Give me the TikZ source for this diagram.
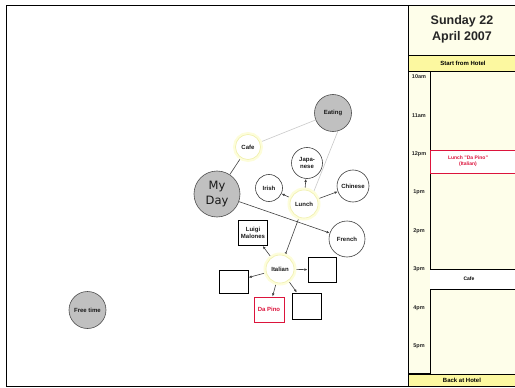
\documentclass[tikz,border=0pt]{standalone}
\usepackage{fontspec}
\setmainfont{Liberation Sans}
\newfontfamily\labelfont{DejaVu Sans}
\usetikzlibrary{arrows.meta,backgrounds}
\definecolor{panelcream}{RGB}{254,254,234}
\definecolor{baryellow}{RGB}{252,248,160}
\definecolor{topicgray}{RGB}{192,192,192}
\definecolor{pinored}{RGB}{220,20,60}
\definecolor{glowyellow}{RGB}{253,253,218}
\definecolor{glowedge}{RGB}{240,240,170}
\definecolor{linkgray}{RGB}{200,200,200}

\begin{document}
\begin{tikzpicture}[x=1pt,y=-1pt,
  lbl/.style={font=\bfseries\fontsize{6}{7}\selectfont, align=center, inner sep=0pt, text=black!90},
  graytopic/.style={lbl, circle, draw=black!70, fill=topicgray, line width=0.6pt, minimum size=#1},
  plaintopic/.style={lbl, circle, draw=black!75, fill=white, line width=0.6pt, minimum size=#1},
  glowtopic/.style={lbl, circle, fill=white, draw=glowedge, line width=0.6pt, minimum size=#1,
    preaction={draw=glowyellow, line width=5pt}},
  boxtopic/.style={lbl, rectangle, draw=black, fill=white, line width=0.9pt,
    minimum width=29pt, minimum height=25pt},
  link/.style={draw=black!75, line width=0.6pt},
  arr/.style={link, -{Latex[length=3.2pt,width=2.6pt]}},
  softlink/.style={draw=linkgray, line width=0.6pt},
  small/.style={font=\bfseries\fontsize{6}{7}\selectfont, inner sep=0pt, align=center},
  tiny/.style={font=\bfseries\fontsize{5}{6}\selectfont, inner sep=0pt, align=center},
  hour/.style={font=\bfseries\fontsize{5.5}{6}\selectfont, inner sep=0pt, text=black!85},
]
\useasboundingbox (0,0) rectangle (515,388);

% ---------- day plan panel ----------
\fill[panelcream] (408,5.5) rectangle (515,386.5);
\node[font=\bfseries\fontsize{12.5}{16}\selectfont, align=center, text=black!85] (title) at (462,29)
  {Sunday 22\\April 2007};
\draw[line width=0.8pt] (408,55) -- (515,55);
\draw[fill=baryellow, line width=0.8pt] (408,55) rectangle (517,71);
\node[small] (start) at (463,63) {Start from Hotel};
\draw[line width=0.9pt] (408,71) rectangle (430,373);
\foreach \t [count=\k from 0] in {10am,11am,12pm,1pm,2pm,3pm,4pm,5pm}
  \node[hour] (h\k) at (419,{77+38.5*\k}) {\t};
% events
\draw[fill=white, draw=pinored, line width=0.9pt] (430,150) rectangle (517,173);
\node[tiny, text=pinored] (lunchevt) at (468,161.5) {Lunch "Da Pino"\\(Italian)};
\fill[white] (430,269) rectangle (515,289);
\draw[line width=0.9pt] (430,269) -- (515,269) (430,289) -- (515,289);
\node[tiny] (cafeevt) at (469,279) {Cafe};
\draw[fill=baryellow, line width=0.8pt] (408,374) rectangle (517,386.5);
\node[small] (back) at (462,380.5) {Back at Hotel};
\draw[line width=1pt] (408,5.5) -- (408,386.5);

% ---------- outer frame ----------
\draw[line width=1.5pt] (515,5.5) -- (6.5,5.5) -- (6.5,386.5) -- (515,386.5);

% ---------- mind map ----------
\node[graytopic=37pt] (eating) at (333,113) {Eating};
\node[glowtopic=25pt] (cafe) at (248,147) {Cafe};
\node[graytopic=46pt, font=\labelfont\fontsize{11.5}{14.5}\selectfont] (myday) at (217,194) {My\\Day};
\node[plaintopic=31pt] (japanese) at (307,163) {Japa-\\nese};
\node[plaintopic=27pt] (irish) at (269,188) {Irish};
\node[plaintopic=32pt] (chinese) at (353,186) {Chinese};
\node[glowtopic=28pt] (lunch) at (304,204) {Lunch};
\node[plaintopic=36pt] (french) at (347,239) {French};
\node[boxtopic] (luigi) at (253,233) {Luigi\\Malones};
\node[glowtopic=28pt] (italian) at (280,269) {Italian};
\node[boxtopic, minimum height=23pt] (boxleft) at (233.5,281.5) {};
\node[boxtopic, minimum width=28pt] (boxright) at (322,270) {};
\node[boxtopic, draw=pinored, text=pinored, minimum width=30pt] (dapino) at (269,309.5) {Da Pino};
\node[boxtopic, minimum height=26pt] (boxlow) at (306.5,306) {};
\node[graytopic=37pt] (freetime) at (87.5,310) {Free time};

\begin{scope}[on background layer]
  \draw[softlink] (cafe) -- (eating);
  \draw[softlink] (eating.-75) -- (lunch.50);
  \draw[link] (myday) -- (cafe);
  \draw[arr] (myday) -- (french);
  \draw[arr] (lunch) -- (irish);
  \draw[arr] (lunch) -- (japanese);
  \draw[arr] (lunch) -- (chinese);
  \draw[arr] (lunch) -- (italian);
  \draw[arr] (italian) -- (luigi);
  \draw[arr] (italian) -- (boxleft);
  \draw[arr] (italian) -- (boxright);
  \draw[arr] (italian) -- (dapino);
  \draw[arr] (italian) -- (boxlow);
\end{scope}
\end{tikzpicture}
\end{document}
